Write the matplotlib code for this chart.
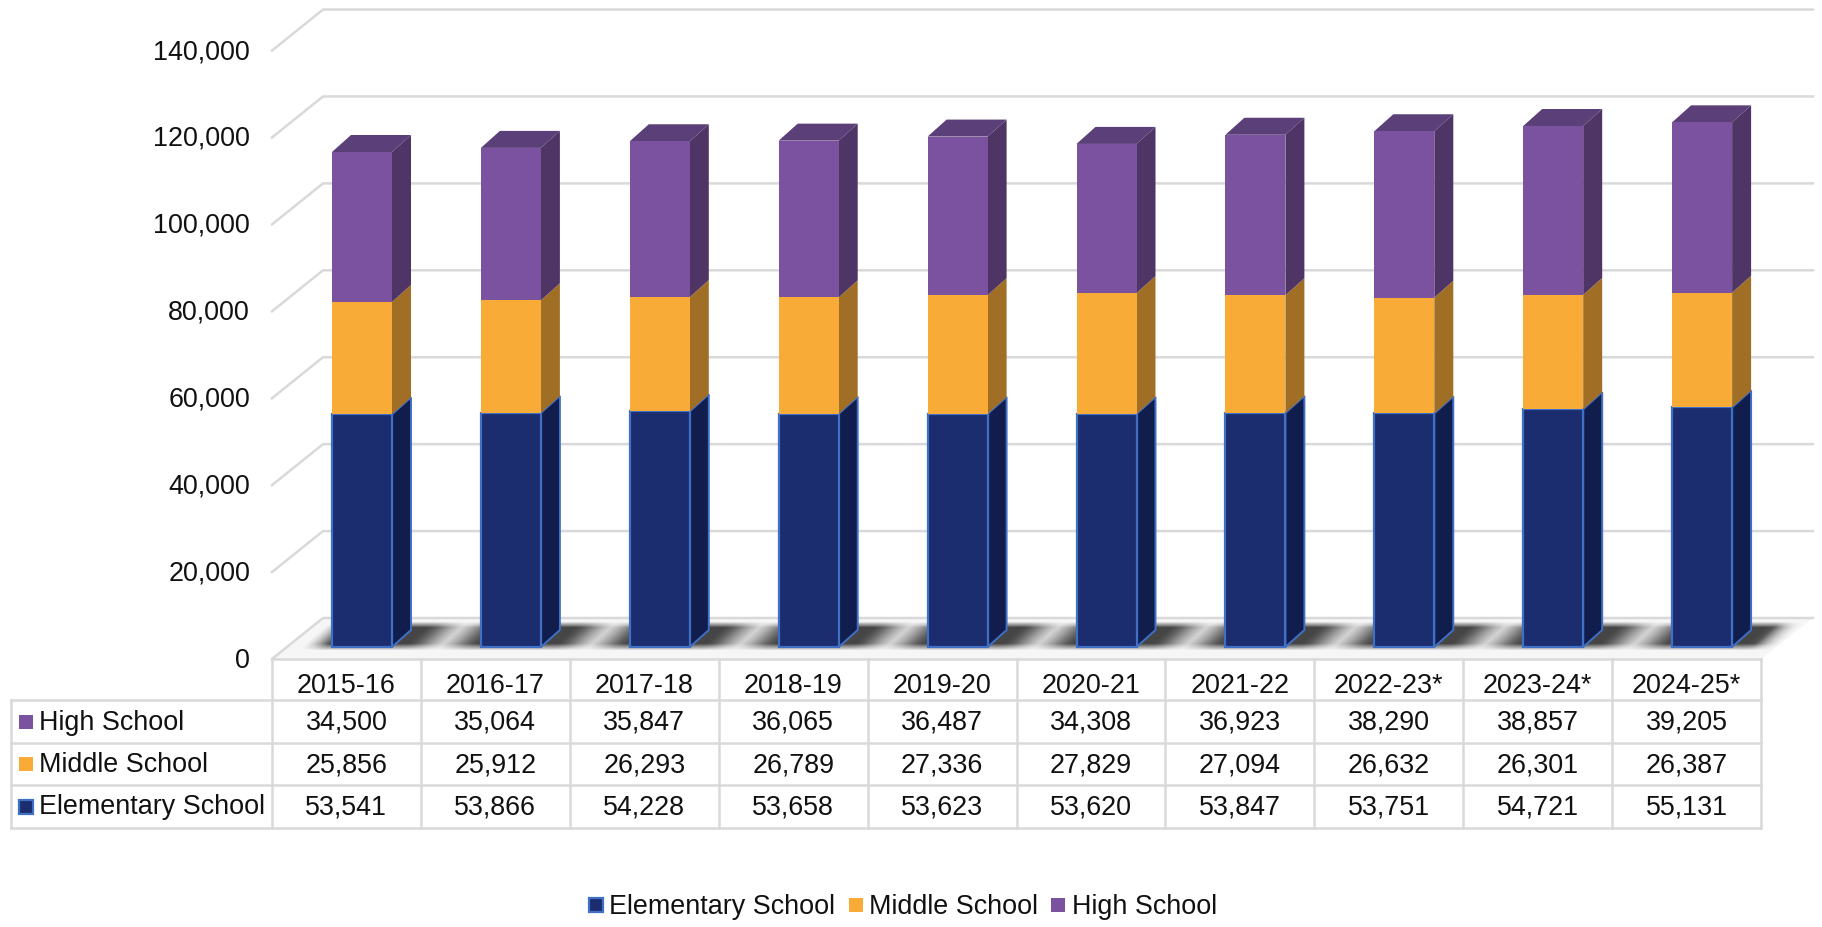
import numpy as np
import matplotlib.pyplot as plt
from matplotlib.patches import Polygon, Rectangle

plt.rcParams['font.family'] = ['Liberation Sans', 'DejaVu Sans']

years = ['2015-16', '2016-17', '2017-18', '2018-19', '2019-20', '2020-21',
         '2021-22', '2022-23*', '2023-24*', '2024-25*']
elementary = [53541, 53866, 54228, 53658, 53623, 53620, 53847, 53751, 54721, 55131]
middle = [25856, 25912, 26293, 26789, 27336, 27829, 27094, 26632, 26301, 26387]
high = [34500, 35064, 35847, 36065, 36487, 34308, 36923, 38290, 38857, 39205]
yticks = [0, 20000, 40000, 60000, 80000, 100000, 120000, 140000]

# colours: front, side, top
navy = ['#1B2D6E', '#101D4D', '#101D4D']
orange = ['#F9AB37', '#A06F25', '#A06F25']
purple = ['#7B529F', '#4E3566', '#5B3F78']
edge_blue = '#3F70C6'
grid = '#D9D9D9'

W, H = 1822, 927
fig = plt.figure(figsize=(W / 100, H / 100), dpi=100)

# pixel axes for floor, table and legend
pix = fig.add_axes([0, 0, 1, 1], zorder=0)
pix.set_xlim(0, W)
pix.set_ylim(H, 0)
pix.axis('off')

# chart axes: x = category number, y = pupils
col_w = 148.9
first_mid = 362
base_y = 647
per_unit = 0.004346
ax = fig.add_axes([0, 0, 1, 1], zorder=1)
ax.set_xlim(-first_mid / col_w, (W - first_mid) / col_w)
ax.set_ylim(-(H - base_y) / per_unit, base_y / per_unit)
ax.axis('off')
ax.patch.set_visible(False)

def dx(p):
    return p / col_w

def dy(p):
    return p / per_unit

x = np.arange(len(years))
bar_w = dx(60)

# walls: front end of each gridline is 12 px under the bar base, back end 29 px over
left_front = (272 - first_mid) / col_w
left_back = (323 - first_mid) / col_w
right_back = (1813 - first_mid) / col_w
for v in yticks:
    ax.plot([left_front, left_back, right_back],
            [v - dy(12), v + dy(29), v + dy(29)], color=grid, lw=1.8, zorder=1)
    ax.text((250 - first_mid) / col_w, v - dy(13.5), f'{v:,}', ha='right', va='center',
            fontsize=19.4, color='#111111')

# floor
pix.add_patch(Polygon([(272, 659), (323, 618), (1813, 618), (1761, 659)],
                      closed=True, facecolor='#F6F6F6', edgecolor='none', zorder=1))

# soft shadow on the floor, sheared with the depth
sx = np.arange(280, 1815)
sy = np.arange(621, 650)
xx, yy = np.meshgrid(sx, sy)
shear = xx + (yy - 648) * 1.1
alpha = np.zeros(xx.shape)
for i in x:
    lo = first_mid - 35 + col_w * i
    hi = first_mid + 38 + col_w * i
    d = np.maximum(np.maximum(lo - shear, shear - hi), 0)
    alpha = np.maximum(alpha, 0.72 * np.exp(-(d / 30.0) ** 2))
alpha *= np.clip((yy - 621) / 6, 0, 1) * np.clip((650 - yy) / 7, 0, 1)
alpha *= np.clip((1775 - shear) / 25, 0, 1) * np.clip((shear - 300) / 25, 0, 1)
rgba = np.zeros(xx.shape + (4,))
rgba[..., 3] = alpha
pix.imshow(rgba, extent=(280, 1815, 650, 621), aspect='auto', interpolation='bilinear', zorder=2)
pix.set_xlim(0, W)
pix.set_ylim(H, 0)

# bars
bottom = np.zeros(len(years))
series = [(elementary, navy), (middle, orange), (high, purple)]
for n, (vals, cols) in enumerate(series):
    vals = np.array(vals)
    is_navy = n == 0
    ax.bar(x, vals, width=bar_w, bottom=bottom, color=cols[0],
           edgecolor=edge_blue if is_navy else 'none', linewidth=1.6, zorder=4)
    for i in x:
        xr = i + bar_w / 2
        y0, y1 = bottom[i], bottom[i] + vals[i]
        ax.add_patch(Polygon([(xr, y0), (xr + dx(19), y0 + dy(17)),
                              (xr + dx(19), y1 + dy(17)), (xr, y1)],
                             closed=True, facecolor=cols[1],
                             edgecolor=edge_blue if is_navy else 'none',
                             linewidth=1.4, zorder=3))
        if n == 2:
            xl = i - bar_w / 2
            ax.add_patch(Polygon([(xl, y1), (xl + dx(19), y1 + dy(17)),
                                  (xr + dx(19), y1 + dy(17)), (xr, y1)],
                                 closed=True, facecolor=cols[2], edgecolor='none', zorder=3))
    bottom = bottom + vals

# data table
tab_left, tab_col0, tab_right = 11, 272, 1761
tab_top, head_bot, row_bots = 659, 699.5, [742.5, 785, 827.5]
line = dict(color=grid, lw=1.8, solid_capstyle='projecting')
pix.plot([tab_col0, tab_right], [tab_top, tab_top], **line)
for yl in [head_bot] + row_bots:
    pix.plot([tab_left, tab_right], [yl, yl], **line)
pix.plot([tab_left, tab_left], [head_bot, row_bots[-1]], **line)
for i in range(len(years) + 1):
    xl = tab_col0 + col_w * i
    pix.plot([xl, xl], [tab_top, row_bots[-1]], **line)

txt = dict(ha='center', va='center', fontsize=19.4, color='#111111')
for i, yr in enumerate(years):
    cx = tab_col0 + col_w * (i + 0.5)
    pix.text(cx, 686, yr, **txt)

rows = [('High School', high, purple[0], 722.5),
        ('Middle School', middle, orange[0], 765),
        ('Elementary School', elementary, navy[0], 807.5)]
for name, vals, col, yc in rows:
    is_el = name.startswith('Elem')
    pix.add_patch(Rectangle((18.5, yc - 8), 14, 14, facecolor=col,
                            edgecolor=edge_blue if is_el else 'none', lw=1.6))
    pix.text(39, yc, name, ha='left', va='center', fontsize=19.4, color='#111111')
    for i, v in enumerate(vals):
        pix.text(tab_col0 + col_w * (i + 0.5), yc, f'{v:,}', **txt)

# bottom legend
legend_items = [('Elementary School', navy[0], 589, 609),
                ('Middle School', orange[0], 849, 869),
                ('High School', purple[0], 1051, 1072)]
for name, col, mx, tx in legend_items:
    pix.add_patch(Rectangle((mx, 898), 14, 14, facecolor=col,
                            edgecolor=edge_blue if name.startswith('Elem') else 'none', lw=1.6))
    pix.text(tx, 907, name, ha='left', va='center', fontsize=19.4, color='#111111')

fig.savefig('out.png', dpi=100)
